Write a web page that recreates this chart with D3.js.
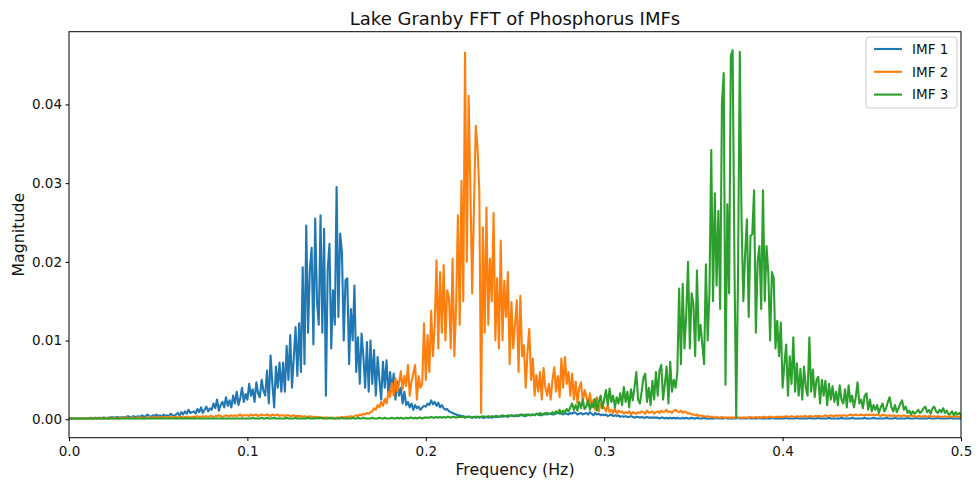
<!DOCTYPE html>
<html>
<head>
<meta charset="utf-8">
<script src="https://cdn.jsdelivr.net/npm/d3@7"></script>
<style>
  html, body { margin: 0; padding: 0; background: #fff; }
  svg { display: block; font-family: "DejaVu Sans", sans-serif; }
</style>
</head>
<body>
<svg id="chart" width="976" height="483"></svg>
<script>
// ---------------- DATA ----------------
const chartTitle = "Lake Granby FFT of Phosphorus IMFs";
const xLabel = "Frequency (Hz)";
const yLabel = "Magnitude";
const seriesNames = ["IMF 1", "IMF 2", "IMF 3"];
const xTicks = [0.0, 0.1, 0.2, 0.3, 0.4, 0.5];
const yTicks = [0.00, 0.01, 0.02, 0.03, 0.04];
const freqStep = 0.001; // FFT bin spacing (Hz), bins from 0 to 0.5

const imf1 = [
0.0001,0.0001,0.0001,0.0001,0.0001,0.0001,0.0001,0.0001,0.0001,0.0001,
0.0001,0.0001,0.0002,0.0001,0.0001,0.0002,0.0001,0.0002,0.0001,0.0002,
0.0002,0.0001,0.0002,0.0002,0.0003,0.0002,0.0002,0.0003,0.0002,0.0002,
0.0003,0.0002,0.0003,0.0004,0.0003,0.0002,0.0004,0.0003,0.0003,0.0004,
0.0003,0.0005,0.0003,0.0004,0.0006,0.0004,0.0003,0.0005,0.0004,0.0006,
0.0004,0.0005,0.0003,0.0006,0.0004,0.0005,0.0004,0.0007,0.0005,0.0004,
0.0006,0.0008,0.0005,0.0009,0.0006,0.0010,0.0007,0.0012,0.0008,0.0009,
0.0010,0.0007,0.0013,0.0009,0.0015,0.0008,0.0012,0.0016,0.0010,0.0014,
0.0012,0.0020,0.0014,0.0025,0.0011,0.0018,0.0022,0.0015,0.0028,0.0017,
0.0024,0.0015,0.0030,0.0020,0.0035,0.0018,0.0027,0.0040,0.0022,0.0032,
0.0025,0.0045,0.0030,0.0038,0.0022,0.0047,0.0033,0.0028,0.0050,0.0036,
0.0030,0.0062,0.0020,0.0081,0.0045,0.0015,0.0067,0.0040,0.0072,0.0035,
0.0072,0.0035,0.0093,0.0050,0.0107,0.0040,0.0078,0.0117,0.0055,0.0122,
0.0060,0.0193,0.0070,0.0246,0.0110,0.0190,0.0218,0.0095,0.0255,0.0150,
0.0120,0.0259,0.0110,0.0242,0.0030,0.0190,0.0223,0.0090,0.0164,0.0120,
0.0295,0.0130,0.0236,0.0212,0.0100,0.0177,0.0179,0.0070,0.0140,0.0100,
0.0170,0.0060,0.0104,0.0045,0.0109,0.0080,0.0040,0.0098,0.0035,0.0100,
0.0045,0.0088,0.0030,0.0079,0.0050,0.0025,0.0073,0.0040,0.0075,0.0030,
0.0060,0.0035,0.0058,0.0025,0.0048,0.0030,0.0040,0.0020,0.0035,0.0018,
0.0022,0.0015,0.0020,0.0012,0.0018,0.0014,0.0016,0.0012,0.0015,0.0017,
0.0016,0.0020,0.0018,0.0024,0.0019,0.0022,0.0017,0.0021,0.0015,0.0018,
0.0014,0.0012,0.0013,0.0010,0.0009,0.0008,0.0007,0.0006,0.0005,0.0005,
0.0004,0.0004,0.0003,0.0003,0.0003,0.0003,0.0002,0.0003,0.0002,0.0003,
0.0002,0.0003,0.0002,0.0002,0.0003,0.0002,0.0003,0.0002,0.0003,0.0003,
0.0003,0.0003,0.0004,0.0003,0.0004,0.0004,0.0003,0.0004,0.0005,0.0004,
0.0004,0.0005,0.0004,0.0005,0.0006,0.0005,0.0004,0.0006,0.0005,0.0005,
0.0006,0.0005,0.0007,0.0006,0.0005,0.0007,0.0006,0.0008,0.0006,0.0007,
0.0007,0.0006,0.0008,0.0007,0.0009,0.0007,0.0008,0.0006,0.0008,0.0007,
0.0006,0.0008,0.0007,0.0009,0.0008,0.0006,0.0007,0.0008,0.0006,0.0007,
0.0008,0.0006,0.0009,0.0007,0.0005,0.0008,0.0006,0.0007,0.0005,0.0006,
0.0005,0.0006,0.0004,0.0005,0.0006,0.0004,0.0005,0.0004,0.0005,0.0003,
0.0004,0.0003,0.0004,0.0003,0.0003,0.0004,0.0003,0.0002,0.0003,0.0003,
0.0002,0.0003,0.0002,0.0002,0.0003,0.0002,0.0002,0.0002,0.0002,0.0002,
0.0002,0.0001,0.0002,0.0002,0.0001,0.0002,0.0001,0.0002,0.0001,0.0002,
0.0001,0.0002,0.0001,0.0001,0.0002,0.0001,0.0002,0.0001,0.0001,0.0002,
0.0001,0.0001,0.0002,0.0001,0.0001,0.0001,0.0002,0.0001,0.0001,0.0001,
0.0001,0.0001,0.0001,0.0002,0.0001,0.0001,0.0001,0.0001,0.0002,0.0001,
0.0001,0.0001,0.0001,0.0001,0.0001,0.0002,0.0001,0.0001,0.0001,0.0001,
0.0001,0.0002,0.0001,0.0001,0.0001,0.0001,0.0001,0.0002,0.0001,0.0001,
0.0001,0.0001,0.0001,0.0001,0.0002,0.0001,0.0001,0.0001,0.0001,0.0001,
0.0001,0.0001,0.0002,0.0001,0.0001,0.0001,0.0001,0.0001,0.0002,0.0001,
0.0001,0.0001,0.0001,0.0001,0.0001,0.0002,0.0001,0.0001,0.0001,0.0001,
0.0002,0.0001,0.0001,0.0001,0.0001,0.0001,0.0002,0.0001,0.0001,0.0001,
0.0001,0.0001,0.0001,0.0002,0.0001,0.0001,0.0001,0.0001,0.0001,0.0002,
0.0001,0.0001,0.0001,0.0001,0.0001,0.0001,0.0002,0.0001,0.0001,0.0001,
0.0001,0.0002,0.0001,0.0001,0.0001,0.0001,0.0001,0.0001,0.0002,0.0001,
0.0001,0.0001,0.0001,0.0002,0.0001,0.0001,0.0001,0.0001,0.0001,0.0001,
0.0002,0.0001,0.0001,0.0001,0.0001,0.0002,0.0001,0.0001,0.0001,0.0001,
0.0001,0.0001,0.0002,0.0001,0.0001,0.0001,0.0001,0.0002,0.0001,0.0001,
0.0001,0.0001,0.0001,0.0001,0.0002,0.0001,0.0001,0.0001,0.0001,0.0001,
0.0001
];

const imf2 = [
0.0001,0.0001,0.0001,0.0001,0.0001,0.0001,0.0001,0.0001,0.0001,0.0001,
0.0001,0.0001,0.0001,0.0001,0.0002,0.0001,0.0001,0.0001,0.0002,0.0001,
0.0001,0.0002,0.0001,0.0001,0.0002,0.0001,0.0002,0.0001,0.0001,0.0002,
0.0002,0.0001,0.0002,0.0002,0.0001,0.0002,0.0002,0.0001,0.0002,0.0002,
0.0002,0.0002,0.0001,0.0002,0.0002,0.0003,0.0002,0.0002,0.0002,0.0003,
0.0002,0.0003,0.0002,0.0002,0.0003,0.0002,0.0003,0.0003,0.0002,0.0003,
0.0003,0.0002,0.0003,0.0003,0.0002,0.0003,0.0003,0.0003,0.0002,0.0003,
0.0003,0.0003,0.0004,0.0003,0.0003,0.0004,0.0003,0.0004,0.0003,0.0004,
0.0004,0.0003,0.0004,0.0004,0.0005,0.0004,0.0003,0.0004,0.0005,0.0004,
0.0004,0.0005,0.0004,0.0005,0.0004,0.0005,0.0006,0.0004,0.0005,0.0005,
0.0005,0.0004,0.0006,0.0005,0.0005,0.0006,0.0004,0.0005,0.0006,0.0005,
0.0005,0.0006,0.0005,0.0004,0.0006,0.0005,0.0005,0.0006,0.0004,0.0005,
0.0005,0.0004,0.0005,0.0005,0.0004,0.0004,0.0005,0.0004,0.0004,0.0004,
0.0004,0.0003,0.0004,0.0003,0.0003,0.0004,0.0003,0.0003,0.0003,0.0002,
0.0003,0.0002,0.0002,0.0002,0.0002,0.0002,0.0001,0.0002,0.0002,0.0001,
0.0002,0.0002,0.0002,0.0003,0.0002,0.0003,0.0003,0.0003,0.0004,0.0003,
0.0004,0.0005,0.0004,0.0006,0.0005,0.0007,0.0006,0.0008,0.0007,0.0009,
0.0010,0.0014,0.0012,0.0018,0.0015,0.0022,0.0017,0.0026,0.0020,0.0035,
0.0028,0.0046,0.0030,0.0052,0.0035,0.0045,0.0061,0.0038,0.0055,0.0042,
0.0069,0.0030,0.0048,0.0058,0.0069,0.0025,0.0055,0.0040,0.0045,0.0122,
0.0050,0.0107,0.0060,0.0138,0.0080,0.0120,0.0202,0.0090,0.0187,0.0110,
0.0196,0.0100,0.0164,0.0154,0.0090,0.0204,0.0080,0.0145,0.0259,0.0120,
0.0303,0.0150,0.0466,0.0200,0.0411,0.0291,0.0160,0.0270,0.0373,0.0345,
0.0290,0.0008,0.0244,0.0110,0.0269,0.0120,0.0204,0.0150,0.0262,0.0100,
0.0179,0.0090,0.0227,0.0100,0.0176,0.0130,0.0187,0.0070,0.0149,0.0090,
0.0120,0.0151,0.0060,0.0157,0.0080,0.0094,0.0040,0.0085,0.0115,0.0050,
0.0077,0.0030,0.0056,0.0035,0.0060,0.0025,0.0065,0.0040,0.0030,0.0045,
0.0025,0.0050,0.0066,0.0035,0.0055,0.0028,0.0077,0.0040,0.0079,0.0045,
0.0060,0.0030,0.0058,0.0025,0.0048,0.0020,0.0040,0.0047,0.0022,0.0037,
0.0029,0.0018,0.0033,0.0015,0.0025,0.0012,0.0028,0.0010,0.0020,0.0014,
0.0015,0.0010,0.0018,0.0009,0.0012,0.0008,0.0014,0.0007,0.0011,0.0009,
0.0010,0.0007,0.0009,0.0008,0.0010,0.0006,0.0009,0.0008,0.0007,0.0009,
0.0008,0.0010,0.0009,0.0007,0.0011,0.0008,0.0009,0.0010,0.0007,0.0009,
0.0010,0.0008,0.0011,0.0009,0.0010,0.0012,0.0009,0.0010,0.0008,0.0011,
0.0012,0.0010,0.0009,0.0011,0.0008,0.0010,0.0009,0.0007,0.0008,0.0006,
0.0006,0.0005,0.0006,0.0004,0.0005,0.0004,0.0004,0.0003,0.0004,0.0003,
0.0003,0.0003,0.0002,0.0003,0.0002,0.0002,0.0003,0.0002,0.0002,0.0002,
0.0002,0.0002,0.0002,0.0002,0.0002,0.0002,0.0002,0.0002,0.0002,0.0002,
0.0002,0.0002,0.0003,0.0002,0.0002,0.0003,0.0002,0.0003,0.0002,0.0003,
0.0003,0.0002,0.0003,0.0003,0.0003,0.0002,0.0003,0.0003,0.0003,0.0003,
0.0003,0.0003,0.0004,0.0003,0.0003,0.0004,0.0003,0.0003,0.0004,0.0003,
0.0004,0.0003,0.0004,0.0004,0.0003,0.0004,0.0004,0.0003,0.0004,0.0004,
0.0004,0.0004,0.0003,0.0004,0.0005,0.0004,0.0004,0.0005,0.0004,0.0004,
0.0005,0.0004,0.0005,0.0004,0.0005,0.0005,0.0004,0.0005,0.0006,0.0005,
0.0005,0.0006,0.0005,0.0005,0.0006,0.0005,0.0005,0.0006,0.0005,0.0006,
0.0005,0.0006,0.0005,0.0006,0.0005,0.0004,0.0006,0.0005,0.0005,0.0004,
0.0005,0.0004,0.0005,0.0004,0.0004,0.0005,0.0004,0.0004,0.0005,0.0004,
0.0004,0.0004,0.0005,0.0004,0.0004,0.0003,0.0004,0.0004,0.0003,0.0004,
0.0004,0.0003,0.0004,0.0004,0.0003,0.0004,0.0003,0.0004,0.0003,0.0003,
0.0003,0.0004,0.0003,0.0003,0.0004,0.0003,0.0003,0.0004,0.0003,0.0003,
0.0003
];

const imf3 = [
0.0001,0.0001,0.0001,0.0001,0.0001,0.0001,0.0001,0.0001,0.0001,0.0001,
0.0001,0.0001,0.0001,0.0001,0.0001,0.0001,0.0001,0.0001,0.0001,0.0001,
0.0001,0.0001,0.0001,0.0001,0.0001,0.0001,0.0001,0.0001,0.0001,0.0001,
0.0001,0.0001,0.0001,0.0001,0.0001,0.0001,0.0001,0.0001,0.0001,0.0001,
0.0001,0.0001,0.0001,0.0001,0.0001,0.0001,0.0001,0.0001,0.0001,0.0001,
0.0001,0.0001,0.0001,0.0001,0.0001,0.0001,0.0001,0.0001,0.0001,0.0001,
0.0001,0.0001,0.0001,0.0001,0.0001,0.0001,0.0001,0.0001,0.0001,0.0001,
0.0001,0.0001,0.0001,0.0001,0.0001,0.0001,0.0001,0.0001,0.0001,0.0001,
0.0001,0.0001,0.0001,0.0001,0.0001,0.0001,0.0001,0.0001,0.0001,0.0001,
0.0001,0.0001,0.0001,0.0001,0.0001,0.0001,0.0001,0.0001,0.0001,0.0001,
0.0001,0.0001,0.0001,0.0002,0.0001,0.0001,0.0001,0.0001,0.0002,0.0001,
0.0001,0.0002,0.0001,0.0001,0.0001,0.0002,0.0001,0.0001,0.0001,0.0001,
0.0001,0.0001,0.0002,0.0001,0.0001,0.0001,0.0001,0.0002,0.0001,0.0001,
0.0001,0.0001,0.0001,0.0001,0.0002,0.0001,0.0001,0.0001,0.0001,0.0002,
0.0001,0.0002,0.0001,0.0001,0.0001,0.0001,0.0002,0.0001,0.0001,0.0001,
0.0001,0.0001,0.0001,0.0002,0.0001,0.0001,0.0001,0.0001,0.0001,0.0002,
0.0001,0.0001,0.0002,0.0001,0.0001,0.0002,0.0001,0.0001,0.0001,0.0001,
0.0002,0.0001,0.0001,0.0001,0.0002,0.0001,0.0001,0.0002,0.0001,0.0001,
0.0001,0.0002,0.0001,0.0001,0.0002,0.0001,0.0002,0.0001,0.0001,0.0002,
0.0001,0.0002,0.0002,0.0001,0.0002,0.0001,0.0002,0.0002,0.0001,0.0002,
0.0002,0.0002,0.0002,0.0003,0.0002,0.0002,0.0003,0.0002,0.0003,0.0002,
0.0003,0.0002,0.0003,0.0003,0.0002,0.0003,0.0003,0.0002,0.0003,0.0003,
0.0003,0.0003,0.0002,0.0003,0.0003,0.0003,0.0002,0.0003,0.0003,0.0003,
0.0003,0.0003,0.0004,0.0003,0.0003,0.0004,0.0003,0.0004,0.0003,0.0004,
0.0004,0.0003,0.0004,0.0005,0.0004,0.0004,0.0005,0.0004,0.0005,0.0004,
0.0005,0.0004,0.0005,0.0006,0.0005,0.0004,0.0006,0.0005,0.0006,0.0005,
0.0006,0.0005,0.0007,0.0006,0.0008,0.0005,0.0007,0.0006,0.0008,0.0007,
0.0007,0.0009,0.0006,0.0010,0.0008,0.0012,0.0007,0.0011,0.0009,0.0013,
0.0010,0.0015,0.0020,0.0012,0.0018,0.0011,0.0022,0.0014,0.0025,0.0013,
0.0016,0.0024,0.0012,0.0020,0.0015,0.0026,0.0011,0.0022,0.0030,0.0014,
0.0025,0.0037,0.0018,0.0039,0.0022,0.0030,0.0015,0.0028,0.0020,0.0033,
0.0018,0.0041,0.0022,0.0035,0.0015,0.0038,0.0024,0.0041,0.0060,0.0025,
0.0020,0.0035,0.0053,0.0058,0.0022,0.0040,0.0018,0.0049,0.0025,0.0060,
0.0030,0.0062,0.0069,0.0025,0.0045,0.0067,0.0020,0.0073,0.0035,0.0050,
0.0040,0.0060,0.0166,0.0070,0.0172,0.0090,0.0134,0.0200,0.0090,0.0160,
0.0147,0.0080,0.0189,0.0100,0.0120,0.0095,0.0070,0.0197,0.0100,0.0160,
0.0342,0.0150,0.0287,0.0170,0.0265,0.0140,0.0401,0.0440,0.0044,0.0273,
0.0160,0.0462,0.0469,0.0200,0.0002,0.0180,0.0467,0.0250,0.0150,0.0210,
0.0254,0.0130,0.0233,0.0235,0.0291,0.0110,0.0200,0.0220,0.0140,0.0291,
0.0150,0.0220,0.0185,0.0100,0.0187,0.0180,0.0090,0.0125,0.0080,0.0123,
0.0040,0.0070,0.0095,0.0030,0.0080,0.0045,0.0104,0.0035,0.0071,0.0030,
0.0064,0.0025,0.0067,0.0040,0.0030,0.0104,0.0035,0.0063,0.0028,0.0050,
0.0054,0.0020,0.0050,0.0030,0.0049,0.0018,0.0045,0.0025,0.0042,0.0022,
0.0035,0.0018,0.0043,0.0025,0.0020,0.0038,0.0015,0.0043,0.0022,0.0030,
0.0015,0.0028,0.0047,0.0020,0.0025,0.0014,0.0030,0.0033,0.0012,0.0025,
0.0010,0.0018,0.0012,0.0018,0.0008,0.0015,0.0020,0.0010,0.0014,0.0022,
0.0028,0.0015,0.0010,0.0018,0.0009,0.0014,0.0020,0.0024,0.0012,0.0016,
0.0008,0.0011,0.0006,0.0010,0.0007,0.0009,0.0012,0.0008,0.0010,0.0014,
0.0016,0.0009,0.0012,0.0007,0.0014,0.0016,0.0010,0.0008,0.0012,0.0009,
0.0014,0.0008,0.0011,0.0006,0.0007,0.0010,0.0005,0.0009,0.0006,0.0008,
0.0005
];

const seriesValues = [imf1, imf2, imf3];
const seriesColors = ["#1f77b4", "#ff7f0e", "#2ca02c"];

// ---------------- LAYOUT ----------------
const W = 976, H = 483;
const plot = { left: 69, right: 961, top: 31.7, bottom: 437.7 };
const xDomain = [0, 0.5];
const yMax = d3.max(seriesValues.flat());
const yPad = yMax * 0.05;
const yDomain = [-yPad, yMax + yPad];

const svg = d3.select("#chart");
svg.append("rect").attr("width", W).attr("height", H).attr("fill", "#fff");

const x = d3.scaleLinear().domain(xDomain).range([plot.left, plot.right]);
const y = d3.scaleLinear().domain(yDomain).range([plot.bottom, plot.top]);

svg.append("defs").append("clipPath").attr("id", "plotclip")
  .append("rect")
  .attr("x", plot.left).attr("y", plot.top)
  .attr("width", plot.right - plot.left).attr("height", plot.bottom - plot.top);

const line = d3.line()
  .x((d, i) => x(i * freqStep))
  .y(d => y(d));

const lines = svg.append("g").attr("clip-path", "url(#plotclip)");
seriesValues.forEach((vals, k) => {
  lines.append("path")
    .datum(vals)
    .attr("d", line)
    .attr("fill", "none")
    .attr("stroke", seriesColors[k])
    .attr("stroke-width", 2.1)
    .attr("stroke-linejoin", "round")
    .attr("stroke-linecap", "butt");
});

// axes
const tickFont = 13.5;
const xAxis = d3.axisBottom(x).tickValues(xTicks).tickFormat(d3.format(".1f"))
  .tickSize(3.5).tickPadding(5.5);
const yAxis = d3.axisLeft(y).tickValues(yTicks).tickFormat(d3.format(".2f"))
  .tickSize(3.5).tickPadding(3.5);

const gx = svg.append("g").attr("transform", `translate(0,${plot.bottom})`).call(xAxis);
const gy = svg.append("g").attr("transform", `translate(${plot.left},0)`).call(yAxis);
[gx, gy].forEach(g => {
  g.select(".domain").remove();
  g.selectAll(".tick line").attr("stroke", "#000").attr("stroke-width", 1);
  g.selectAll(".tick text").attr("fill", "#111").style("font-size", tickFont + "px")
    .style("font-family", "DejaVu Sans, sans-serif");
});

// spines
svg.append("rect")
  .attr("x", plot.left).attr("y", plot.top)
  .attr("width", plot.right - plot.left).attr("height", plot.bottom - plot.top)
  .attr("fill", "none").attr("stroke", "#000").attr("stroke-width", 1);

// title & labels
svg.append("text")
  .attr("x", (plot.left + plot.right) / 2).attr("y", 25)
  .attr("text-anchor", "middle").style("font-size", "18px").attr("fill", "#111")
  .text(chartTitle);
svg.append("text")
  .attr("x", (plot.left + plot.right) / 2).attr("y", 475)
  .attr("text-anchor", "middle").style("font-size", "15.8px").attr("fill", "#111")
  .text(xLabel);
svg.append("text")
  .attr("transform", `translate(24,${(plot.top + plot.bottom) / 2}) rotate(-90)`)
  .attr("text-anchor", "middle").style("font-size", "15.8px").attr("fill", "#111")
  .text(yLabel);

// legend
const lg = svg.append("g").attr("transform", "translate(866,37)");
lg.append("rect")
  .attr("width", 91).attr("height", 71).attr("rx", 3).attr("ry", 3)
  .attr("fill", "#fff").attr("fill-opacity", 0.8)
  .attr("stroke", "#cccccc").attr("stroke-width", 1);
seriesNames.forEach((name, k) => {
  const yy = 12 + k * 22.8;
  lg.append("line").attr("x1", 8).attr("x2", 36).attr("y1", yy).attr("y2", yy)
    .attr("stroke", seriesColors[k]).attr("stroke-width", 2.1);
  lg.append("text").attr("x", 46).attr("y", yy).attr("dy", "0.36em")
    .style("font-size", "13.5px").attr("fill", "#111").text(name);
});
</script>
</body>
</html>
